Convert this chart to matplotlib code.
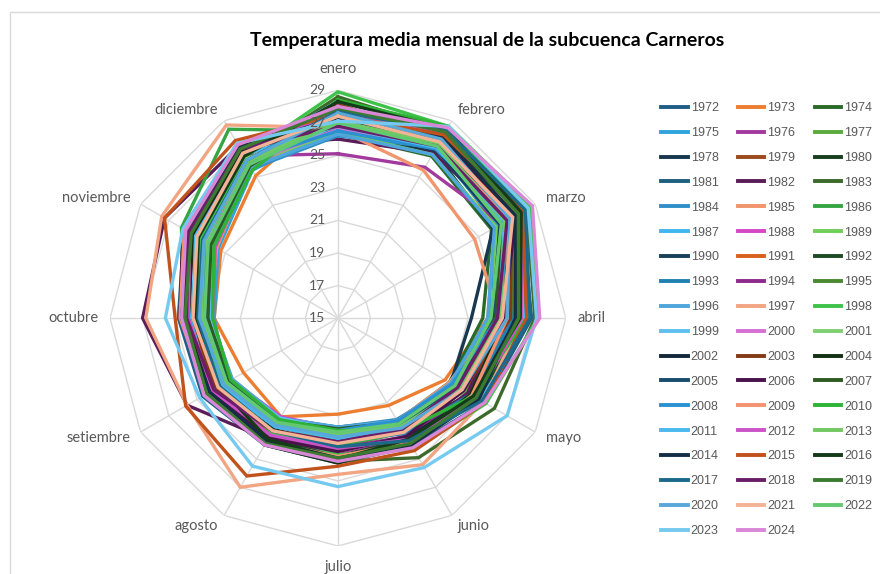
import numpy as np
import matplotlib
matplotlib.use("Agg")
import matplotlib.pyplot as plt
from matplotlib.lines import Line2D
from matplotlib.patches import Rectangle

# month names (categories)
months = ['enero', 'febrero', 'marzo', 'abril', 'mayo', 'junio',
          'julio', 'agosto', 'setiembre', 'octubre', 'noviembre', 'diciembre']

r_ticks = [15, 17, 19, 21, 23, 25, 27, 29]

years = list(range(1972, 2025))

# monthly mean temperature (°C), one row per year, ene..dic
temps_1970s = [
    [26.9, 27.4, 28.0, 26.9, 25.4, 24.1, 23.9, 24.0, 24.6, 24.8, 25.9, 27.3],  # 1972
    [28.2, 27.3, 26.2, 24.2, 22.6, 21.2, 20.9, 22.0, 21.7, 22.6, 23.3, 25.1],  # 1973
    [26.3, 26.5, 25.9, 23.9, 22.9, 22.3, 21.7, 22.2, 22.6, 22.9, 23.6, 25.7],  # 1974
    [26.7, 27.0, 26.4, 24.3, 23.1, 22.4, 21.8, 22.2, 22.9, 22.6, 23.5, 25.5],  # 1975
    [25.1, 25.7, 26.6, 25.6, 24.4, 23.6, 23.4, 23.6, 24.0, 24.3, 25.2, 26.5],  # 1976
    [27.8, 28.1, 27.6, 25.9, 24.0, 22.8, 22.4, 22.6, 23.1, 23.3, 24.4, 26.2],  # 1977
    [26.4, 26.8, 26.0, 23.2, 23.0, 22.5, 22.0, 22.3, 22.7, 23.0, 24.0, 25.9],  # 1978
    [27.3, 27.0, 27.2, 25.2, 23.5, 23.0, 22.7, 23.2, 23.8, 24.1, 25.4, 27.1],  # 1979
]
temps_1980s = [
    [27.5, 27.8, 27.5, 25.5, 24.3, 23.1, 22.8, 22.9, 23.6, 23.8, 24.9, 26.9],
    [27.0, 27.9, 27.0, 24.7, 23.3, 22.5, 21.9, 22.4, 22.8, 23.1, 24.2, 26.0],
    [26.0, 26.7, 27.0, 25.0, 24.2, 23.5, 23.0, 23.6, 25.7, 27.0, 27.3, 27.2],
    [28.6, 28.3, 28.4, 27.1, 26.1, 24.9, 23.8, 23.4, 23.5, 23.7, 24.8, 26.4],
    [26.2, 27.1, 27.3, 24.5, 23.2, 22.2, 21.7, 22.1, 22.6, 22.8, 23.8, 25.6],
    [26.6, 25.5, 24.7, 24.9, 22.9, 22.3, 21.8, 22.1, 22.5, 22.9, 23.6, 25.8],
    [26.5, 27.2, 26.8, 25.4, 23.9, 23.1, 22.9, 23.3, 24.0, 24.5, 26.1, 28.4],
    [28.3, 28.5, 28.2, 26.5, 25.0, 23.9, 23.5, 23.7, 24.2, 24.0, 25.0, 26.6],
    [27.2, 27.6, 27.4, 25.8, 23.5, 22.4, 21.8, 22.0, 22.6, 22.7, 23.7, 25.7],
    [26.4, 26.6, 26.2, 24.6, 23.2, 22.5, 22.0, 22.5, 22.9, 23.2, 24.1, 26.0],
]
temps_1990s = [
    [26.8, 27.0, 26.5, 24.5, 23.6, 22.7, 22.2, 22.7, 23.2, 23.4, 24.5, 26.3],
    [27.5, 27.8, 27.9, 26.1, 24.7, 23.6, 23.0, 23.5, 24.1, 24.6, 25.7, 27.2],
    [27.9, 28.3, 28.2, 26.6, 24.9, 23.6, 23.5, 23.6, 23.9, 23.6, 24.6, 26.2],
    [26.9, 27.2, 27.5, 25.8, 24.4, 23.2, 22.5, 22.7, 23.3, 23.5, 24.6, 26.1],
    [27.2, 27.4, 26.8, 25.0, 24.5, 23.4, 23.0, 23.4, 23.8, 24.4, 25.3, 26.8],
    [28.0, 28.2, 27.7, 25.6, 23.7, 22.6, 22.1, 22.4, 22.9, 23.0, 24.1, 25.8],
    [26.3, 26.6, 26.1, 24.2, 23.0, 22.3, 21.7, 22.1, 22.5, 22.8, 23.9, 25.7],
    [26.7, 27.5, 27.8, 26.3, 25.3, 25.4, 24.6, 27.0, 25.7, 26.8, 27.5, 28.7],
    [28.9, 28.6, 28.7, 27.3, 25.5, 24.3, 23.4, 23.1, 23.3, 23.5, 24.7, 26.5],
    [26.9, 27.7, 27.2, 24.9, 23.3, 22.5, 21.9, 22.1, 22.7, 22.9, 24.0, 25.9],
]
temps_2000s = [
    [26.6, 27.1, 26.9, 24.8, 23.4, 22.6, 22.0, 22.5, 22.8, 23.1, 24.2, 26.0],
    [27.0, 27.3, 27.3, 25.0, 23.6, 22.6, 22.2, 22.5, 23.0, 23.3, 24.4, 26.3],
    [27.6, 28.0, 27.9, 26.0, 24.6, 23.5, 23.1, 23.4, 24.0, 24.5, 25.8, 27.0],
    [28.1, 28.0, 27.3, 25.6, 23.9, 22.9, 22.5, 23.0, 23.7, 23.9, 25.0, 26.7],
    [27.3, 27.5, 27.0, 25.3, 24.4, 23.8, 23.9, 24.0, 24.2, 24.2, 25.3, 26.9],
    [27.2, 27.6, 27.1, 24.6, 23.4, 22.6, 22.0, 22.4, 22.9, 23.0, 24.1, 25.9],
    [27.4, 27.8, 27.6, 25.2, 23.9, 23.4, 23.2, 23.5, 24.1, 24.7, 26.0, 27.3],
    [27.7, 27.2, 26.7, 24.7, 23.2, 22.4, 21.8, 22.3, 22.7, 23.0, 24.0, 25.8],
    [26.5, 27.0, 27.2, 24.8, 23.1, 22.3, 21.9, 22.4, 22.9, 23.2, 24.5, 26.2],
    [27.1, 27.3, 27.1, 25.4, 24.5, 23.8, 23.5, 23.8, 24.3, 24.7, 25.9, 27.4],
]
temps_2010s = [
    [28.4, 28.6, 28.3, 26.6, 24.6, 23.0, 21.9, 22.2, 22.6, 22.7, 23.8, 25.5],
    [26.8, 27.1, 26.8, 24.9, 23.6, 22.8, 22.4, 22.7, 23.3, 23.9, 25.1, 26.6],
    [27.6, 28.2, 28.0, 26.3, 24.8, 23.6, 23.0, 23.3, 23.9, 24.2, 25.5, 27.0],
    [27.1, 27.4, 26.9, 24.9, 23.7, 22.7, 22.1, 22.5, 23.1, 23.4, 24.5, 26.1],
    [27.3, 27.9, 27.6, 25.9, 25.0, 24.0, 23.6, 23.7, 24.1, 24.6, 25.6, 27.1],
    [27.5, 28.0, 28.1, 26.6, 25.4, 24.4, 24.1, 26.2, 25.8, 25.0, 27.3, 27.6],
    [28.3, 28.4, 28.0, 26.2, 24.6, 23.6, 23.7, 23.6, 23.4, 23.8, 24.9, 26.5],
    [27.7, 28.3, 28.3, 26.8, 25.2, 23.7, 22.9, 23.0, 23.4, 23.6, 24.6, 26.2],
    [26.8, 27.2, 27.0, 24.8, 23.5, 22.9, 22.6, 23.0, 23.8, 24.3, 25.6, 27.0],
    [27.9, 28.2, 27.8, 26.1, 24.8, 23.9, 23.6, 23.9, 24.3, 24.4, 25.4, 27.0],
]
temps_2020s = [
    [27.6, 27.7, 27.2, 25.4, 23.8, 22.8, 22.3, 22.6, 23.1, 23.5, 24.5, 26.2],
    [27.4, 27.5, 27.4, 25.1, 23.8, 23.1, 22.7, 23.0, 23.5, 23.9, 25.0, 26.7],
    [27.0, 27.2, 26.6, 24.4, 23.3, 22.5, 22.0, 22.4, 22.9, 23.2, 24.2, 25.9],
    [27.1, 28.6, 28.5, 27.2, 27.0, 25.6, 25.35, 25.5, 24.8, 25.6, 26.0, 27.4],
    [28.0, 28.5, 28.8, 27.4, 25.4, 24.2, 23.8, 24.0, 24.5, 24.6, 25.8, 27.3],
]

colors = [
    '#1f5f86', '#ed7d31', '#2a6b2a', '#2ea3dc', '#a23a9e', '#5caa3e',
    '#17384e', '#9c4a1c', '#173f1c', '#1d5f7e', '#5a1d58', '#3d6a2a',
    '#2f8fc6', '#f0956c', '#35a544', '#3fb6ee', '#d448c6', '#6fcf56',
    '#183f5c', '#d9601f', '#1c4d22', '#2080b2', '#8e2a8c', '#4b8a30',
    '#4fa6dc', '#f2a583', '#3fc24a', '#5ec0ef', '#d56fd3', '#7fd071',
    '#13293a', '#843a14', '#123012', '#194d6c', '#4a124a', '#2d5b22',
    '#2a92d2', '#f3936f', '#2fb336', '#4ab9ee', '#cb53c8', '#72c962',
    '#142f45', '#c2521c', '#143b18', '#1c6989', '#6a1e68', '#3b7a30',
    '#58a8d8', '#f4b394', '#63c970', '#76caf0', '#d987d7',
]

temps = temps_1970s + temps_1980s + temps_1990s + temps_2000s + temps_2010s + temps_2020s

grid_c = '#d9d9d9'
text_c = '#595959'

fig = plt.figure(figsize=(8.8, 5.74), dpi=100)
ax = fig.add_axes([0.125, 0.0488, 0.518, 0.794], projection='polar')
ax.set_theta_offset(np.pi / 2)
ax.set_theta_direction(-1)
ax.set_ylim(15, 29)
ax.set_xticks([])
ax.set_yticks([])
ax.spines['polar'].set_visible(False)
ax.grid(False)

theta = np.arange(len(months)) * 2 * np.pi / len(months)
theta_c = np.append(theta, theta[0])

# polygon grid + spokes
for r in r_ticks[1:]:
    ax.plot(theta_c, [r] * len(theta_c), color=grid_c, lw=1.0, zorder=1)
for t in theta:
    ax.plot([t, t], [15, 29], color=grid_c, lw=1.0, zorder=1)

handles = []
for i, (yr, vals) in enumerate(zip(years, temps)):
    v = np.append(vals, vals[0])
    ax.plot(theta_c, v, color=colors[i], lw=2.4, zorder=3 + i * 0.01,
            solid_joinstyle='miter')
    handles.append(Line2D([0], [0], color=colors[i], lw=2.8))

# radial tick labels
for r in r_ticks:
    ax.annotate(str(r), xy=(0, r), xytext=(-9, 0), textcoords='offset points',
                ha='right', va='center', fontsize=10, color=text_c,
                family='Lato', zorder=10)

# month labels
for t, name in zip(theta, months):
    dx, dy = np.sin(t), np.cos(t)
    if abs(dx) < 0.1:
        ha = 'center'
        va = 'bottom' if dy > 0 else 'top'
        d = 10
    else:
        ha = 'left' if dx > 0 else 'right'
        va = 'center'
        d = 8.6
    ax.annotate(name, xy=(t, 29), xytext=(dx * d, dy * d),
                textcoords='offset points', ha=ha, va=va, fontsize=10.5,
                color=text_c, family='Lato', annotation_clip=False)

fig.text(0.553, 0.930, 'Temperatura media mensual de la subcuenca Carneros',
         ha='center', va='center', fontsize=14, fontweight='bold',
         family='Lato', color='black')

# legend reads row by row (1972 1973 1974 / 1975 ...)
order = list(range(0, 53, 3)) + list(range(1, 53, 3)) + list(range(2, 53, 3))
fig.legend([handles[k] for k in order], [str(years[k]) for k in order],
           ncol=3, loc='upper left',
           bbox_to_anchor=(0.7515, 0.822), frameon=False,
           prop={'family': 'Liberation Sans', 'size': 9},
           handlelength=2.1, handletextpad=0.25, columnspacing=1.55,
           labelspacing=1.03, borderpad=0, borderaxespad=0,
           labelcolor=text_c)

# chart area border (left/top edges visible)
fig.patches.append(Rectangle((10 / 880, -0.1), 1.2, 1.1 - 12 / 574,
                             transform=fig.transFigure, fill=False,
                             edgecolor='#d9d9d9', lw=1.0))

fig.savefig('out.png', dpi=100)
